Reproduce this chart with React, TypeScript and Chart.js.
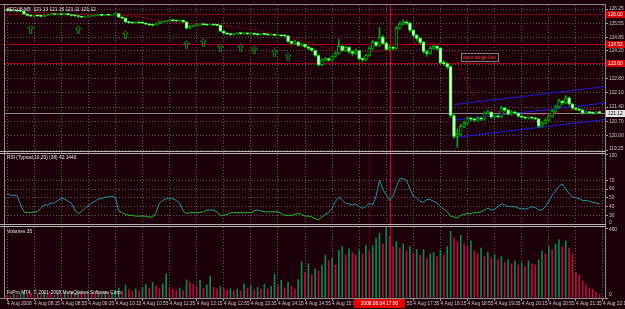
import React, { useEffect, useRef } from 'react';
import { Chart, registerables } from 'chart.js';

Chart.register(...registerables);

// ---------------- DATA ----------------
const symbolTitle = '#EGU8,M5  121.13 121.15 121.11 121.12';
const rsiTitle = 'RSI (Typical,10,20) (38) 42.1440';
const volTitle = 'Volumes 35';
const copyright = 'FxPro MT4, \u00a9 2001-2008 MetaQuotes Software Corp.';

const opens = [
  126.20,126.18,126.16,126.17,126.15,126.14,126.00,125.93,125.90,125.92,
  125.91,125.89,125.93,125.97,125.99,125.98,126.00,125.98,125.99,125.97,
  125.93,125.92,125.88,125.85,125.86,125.90,125.92,125.93,125.95,125.94,
  125.96,125.95,125.97,126.02,125.85,125.80,125.62,125.58,125.56,125.60,
  125.57,125.55,125.50,125.47,125.45,125.52,125.60,125.63,125.66,125.70,
  125.68,125.66,125.69,125.62,125.30,125.40,125.42,125.45,125.50,125.48,
  125.46,125.48,125.46,125.44,125.15,125.05,125.02,124.98,125.02,125.05,
  125.03,125.05,125.02,125.05,125.00,124.98,125.02,125.00,124.97,124.98,
  124.95,124.97,124.93,124.92,124.65,124.55,124.62,124.45,124.50,124.38,
  124.30,124.20,123.95,123.50,123.72,123.80,123.72,123.90,124.05,124.40,
  124.20,124.35,124.15,124.05,124.20,123.80,123.75,123.95,124.30,124.60,
  124.45,124.85,124.55,124.25,124.35,124.30,125.30,125.50,125.60,125.55,
  125.20,124.95,124.80,124.60,124.15,124.05,124.30,124.40,124.30,123.60,
  123.55,123.40,120.98,119.95,120.05,120.45,120.60,120.85,120.80,120.75,
  120.85,120.80,121.10,121.15,120.90,120.95,120.92,121.35,121.25,121.05,
  121.15,121.10,120.95,120.90,120.85,120.88,120.85,120.82,120.45,120.60,
  120.75,120.95,121.20,121.40,121.70,121.60,121.85,121.55,121.35,121.30,
  121.25,121.10,121.15,121.12,121.10,121.14,
];
const closes = [
  126.18,126.16,126.17,126.15,126.14,126.00,125.93,125.90,125.92,125.91,
  125.89,125.93,125.97,125.99,125.98,126.00,125.98,125.99,125.97,125.93,
  125.92,125.88,125.85,125.86,125.90,125.92,125.93,125.95,125.94,125.96,
  125.95,125.97,126.02,125.85,125.80,125.62,125.58,125.56,125.60,125.57,
  125.55,125.50,125.47,125.45,125.52,125.60,125.63,125.66,125.70,125.68,
  125.66,125.69,125.62,125.30,125.40,125.42,125.45,125.50,125.48,125.46,
  125.48,125.46,125.44,125.15,125.05,125.02,124.98,125.02,125.05,125.03,
  125.05,125.02,125.05,125.00,124.98,125.02,125.00,124.97,124.98,124.95,
  124.97,124.93,124.92,124.65,124.55,124.62,124.45,124.50,124.38,124.30,
  124.20,123.95,123.50,123.72,123.80,123.72,123.90,124.05,124.40,124.20,
  124.35,124.15,124.05,124.20,123.80,123.75,123.95,124.30,124.60,124.45,
  124.85,124.55,124.25,124.35,124.30,125.30,125.50,125.60,125.55,125.20,
  124.95,124.80,124.60,124.15,124.05,124.30,124.40,124.30,123.60,123.55,
  123.40,120.98,119.95,120.05,120.45,120.60,120.85,120.80,120.75,120.85,
  120.80,121.10,121.15,120.90,120.95,120.92,121.35,121.25,121.05,121.15,
  121.10,120.95,120.90,120.85,120.88,120.85,120.82,120.45,120.60,120.75,
  120.95,121.20,121.40,121.70,121.60,121.85,121.55,121.35,121.30,121.25,
  121.10,121.15,121.12,121.10,121.14,121.12,
];
const highs = [
  126.23,126.20,126.20,126.19,126.18,126.16,126.02,125.96,125.95,125.94,
  125.93,125.96,125.99,126.02,126.01,126.03,126.02,126.02,126.01,125.99,
  125.96,125.94,125.90,125.89,125.93,125.95,125.96,125.98,125.97,125.99,
  125.98,126.00,126.06,126.04,125.88,125.82,125.65,125.61,125.63,125.62,
  125.59,125.57,125.53,125.50,125.55,125.63,125.66,125.69,125.73,125.72,
  125.71,125.72,125.71,125.64,125.44,125.46,125.48,125.53,125.52,125.50,
  125.51,125.50,125.48,125.46,125.18,125.08,125.04,125.05,125.08,125.07,
  125.08,125.07,125.08,125.07,125.03,125.05,125.04,125.02,125.01,125.00,
  125.00,124.99,124.96,124.94,124.68,124.70,124.65,124.58,124.53,124.42,
  124.34,124.23,123.98,123.78,123.86,123.84,123.95,124.12,124.75,124.45,
  124.42,124.38,124.20,124.28,124.22,123.85,124.02,124.38,124.70,124.65,
  125.35,124.95,124.60,124.45,124.40,125.40,125.62,125.72,125.68,125.60,
  125.25,125.00,124.85,124.65,124.20,124.40,124.48,124.45,124.35,123.70,
  123.60,123.45,121.05,120.30,120.55,120.70,120.92,120.90,120.85,120.92,
  120.90,121.18,121.25,121.18,121.00,121.00,121.45,121.40,121.30,121.22,
  121.20,121.12,121.00,120.95,120.93,120.92,120.90,120.85,120.68,120.82,
  121.02,121.28,121.50,121.80,121.75,121.97,121.90,121.60,121.40,121.35,
  121.30,121.20,121.18,121.16,121.18,121.17,
];
const lows = [
  126.15,126.13,126.14,126.12,126.11,125.97,125.90,125.87,125.88,125.88,
  125.86,125.88,125.92,125.95,125.96,125.96,125.95,125.96,125.95,125.90,
  125.89,125.84,125.82,125.83,125.85,125.88,125.90,125.91,125.92,125.92,
  125.93,125.93,125.95,125.82,125.76,125.58,125.55,125.52,125.54,125.54,
  125.52,125.46,125.43,125.40,125.43,125.50,125.58,125.61,125.64,125.65,
  125.63,125.64,125.59,125.25,125.27,125.37,125.39,125.43,125.45,125.43,
  125.44,125.43,125.41,125.12,125.02,124.98,124.94,124.96,125.00,125.00,
  125.01,124.99,125.00,124.97,124.95,124.96,124.97,124.93,124.94,124.92,
  124.93,124.90,124.88,124.60,124.50,124.52,124.40,124.42,124.33,124.25,
  124.15,123.90,123.42,123.45,123.68,123.66,123.70,123.86,124.00,124.15,
  124.15,124.05,123.95,124.00,123.72,123.65,123.70,123.90,124.25,124.40,
  124.40,124.50,124.20,124.20,124.22,124.25,125.25,125.45,125.48,125.10,
  124.88,124.70,124.50,124.05,123.90,124.00,124.25,124.22,123.55,123.45,
  123.30,120.90,119.85,119.40,120.00,120.38,120.55,120.72,120.68,120.70,
  120.72,120.75,121.05,120.85,120.85,120.86,120.88,121.18,121.00,121.00,
  121.03,120.90,120.85,120.80,120.80,120.80,120.76,120.38,120.40,120.55,
  120.70,120.90,121.15,121.35,121.50,121.55,121.48,121.28,121.22,121.20,
  121.05,121.07,121.07,121.05,121.07,121.10,
];
const maValues = [
  126.15,126.15,126.15,126.15,126.15,126.15,126.12,126.10,126.08,126.07,
  126.06,126.05,126.05,126.04,126.04,126.03,126.03,126.02,126.01,126.00,
  125.99,125.99,125.98,125.98,125.97,125.97,125.97,125.97,125.97,125.97,
  125.97,125.97,125.97,125.96,125.95,125.93,125.91,125.89,125.87,125.85,
  125.82,125.79,125.76,125.73,125.70,125.68,125.66,125.64,125.62,125.60,
  125.58,125.57,125.56,125.54,125.52,125.51,125.50,125.50,125.49,125.49,
  125.48,125.48,125.46,125.44,125.42,125.40,125.38,125.36,125.34,125.32,
  125.30,125.28,125.26,125.24,125.20,125.16,125.12,125.08,125.05,125.02,
  124.99,124.96,124.93,124.90,124.85,124.80,124.75,124.70,124.65,124.60,
  124.55,124.50,124.45,124.40,124.35,124.30,124.26,124.23,124.21,124.20,
  124.19,124.18,124.17,124.16,124.15,124.14,124.13,124.13,124.14,124.15,
  124.17,124.18,124.18,124.19,124.20,124.25,124.30,124.36,124.42,124.48,
  124.53,124.56,124.58,124.58,124.57,124.57,124.56,124.55,124.53,124.48,
  124.40,124.28,124.05,123.70,123.30,122.90,122.50,122.20,121.95,121.75,
  121.58,121.45,121.35,121.28,121.22,121.17,121.13,121.10,121.08,121.07,
  121.06,121.05,121.05,121.05,121.04,121.04,121.03,121.03,121.03,121.04,
  121.06,121.09,121.12,121.16,121.20,121.24,121.26,121.27,121.28,121.28,
  121.28,121.28,121.28,121.28,121.28,121.28,
];
const rsiValues = [
  55,53,53,52,42,34,33,33,34,34,
  38,42,42,44,44,47,49,49,46,44,
  36,32,34,38,41,44,46,49,49,51,
  51,52,50,35,33,31,30,30,29,29,
  29,29,28,28,33,44,47,49,49,49,
  47,44,35,32,33,33,33,33,34,36,
  36,36,34,30,30,31,33,33,33,33,
  33,33,33,35,36,35,34,34,34,34,
  34,32,30,30,30,31,32,31,29,29,
  28,26,25,28,31,33,38,46,51,47,
  44,43,42,43,40,38,40,44,42,52,
  70,60,53,47,52,63,72,72,70,60,
  52,50,46,45,48,48,46,44,40,37,
  34,29,28,27,30,31,32,32,33,33,
  34,36,38,36,37,40,43,42,40,40,
  40,38,38,37,38,40,39,36,36,40,
  46,53,58,63,66,60,55,51,50,49,
  47,47,46,45,44,43,
];
const volumes = [
  20,15,25,18,30,45,35,28,22,30,
  25,40,35,28,20,32,26,38,30,45,
  35,50,40,30,42,35,28,38,30,45,
  35,40,55,70,48,90,60,45,65,50,
  75,95,70,110,85,65,100,170,75,60,
  55,70,50,128,110,95,80,123,70,90,
  154,75,60,80,70,55,64,50,62,48,
  100,70,85,55,75,60,95,65,80,170,
  90,123,70,110,85,60,130,253,180,240,
  160,205,190,230,300,260,280,230,335,360,
  300,345,320,300,335,310,370,330,365,420,
  455,380,490,430,360,395,350,380,330,360,
  313,340,300,337,277,310,320,290,335,300,
  360,467,420,395,440,380,360,400,330,310,
  350,290,320,280,300,270,290,250,270,240,
  260,230,250,220,260,240,230,270,330,310,
  360,340,380,410,360,400,350,310,180,160,
  120,90,70,60,40,25,
];

const timeTickBars = [0, 8, 16, 24, 32, 40, 48, 56, 64, 72, 80, 88, 96, 104, 112, 120, 128, 136, 144, 152, 160, 168, 176];
const timeTickLabels = [
  '4 Aug 2008', '4 Aug 08:15', '4 Aug 08:55', '4 Aug 09:35', '4 Aug 10:15', '4 Aug 10:55',
  '4 Aug 11:35', '4 Aug 12:15', '4 Aug 12:55', '4 Aug 13:35', '4 Aug 14:15', '4 Aug 14:55',
  '4 Aug 15:35', '4 Aug 16:15', '4 Aug 16:55', '4 Aug 17:35', '4 Aug 18:15', '4 Aug 18:55',
  '4 Aug 19:35', '4 Aug 20:15', '4 Aug 20:55', '4 Aug 21:35', '4 Aug 22:15',
];
const priceTicks = [126.25, 125.55, 124.85, 124.20, 123.50, 122.80, 122.10, 121.40, 120.70, 120.00, 119.25];
const rsiTicks = [30, 40, 50, 60, 70, 100];
const rsiBottomLabel = '0';
const volTicks = [0, 490];

const levelPrices = [126.00, 124.53, 123.60];
const levelLabels = ['126.00', '124.53', '123.60'];
const currentPrice = 121.12;
const currentLabel = '121.12';
const vLineBars = [107, 113];
const vLineTimeLabel = '2008.08.04 17:00';
const fractalBars = [7, 21, 35, 53, 58, 63, 69, 73, 79, 83];
const fractalPrices = [125.26, 125.22, 124.97, 124.48, 124.58, 124.33, 124.33, 124.23, 124.08, 123.88];
const channelBars = [132, 176.6];
const channelUpper = [121.52, 122.41];
const channelMiddle = [120.75, 121.60];
const channelLower = [119.89, 120.78];
const noteText = 'open range line';
const noteBar = 134;
const notePrice = 123.89;

// ---------------- STYLE ----------------
const BG = '#1c000a';
const GRID = '#5c5c5c';
const AXIS_TEXT = '#c8c8c8';
const FAMILY = '"Liberation Sans", Arial, sans-serif';
const FS = 4.8;

function makeFractalIcon(): HTMLCanvasElement {
  const c = document.createElement('canvas');
  c.width = 7;
  c.height = 9;
  const g = c.getContext('2d')!;
  g.strokeStyle = '#138a13';
  g.lineWidth = 1;
  g.beginPath();
  g.moveTo(3.5, 0.5);
  g.lineTo(6.5, 3.5);
  g.lineTo(4.5, 3.5);
  g.lineTo(4.5, 8.5);
  g.lineTo(2.5, 8.5);
  g.lineTo(2.5, 3.5);
  g.lineTo(0.5, 3.5);
  g.closePath();
  g.stroke();
  return c;
}

const mt4Plugin = {
  id: 'mt4',
  beforeDraw(chart: any) {
    const ctx = chart.ctx;
    ctx.save();
    ctx.fillStyle = BG;
    ctx.fillRect(0, 0, chart.width, chart.height);
    ctx.restore();
  },
  beforeDatasetsDraw(chart: any) {
    const { ctx, chartArea: a, scales } = chart;
    const yP = scales.yPrice;
    const x = scales.x;
    ctx.save();
    ctx.lineWidth = 1;
    levelPrices.forEach((p, i) => {
      const y = Math.round(yP.getPixelForValue(p)) + 0.5;
      ctx.strokeStyle = i === 0 ? '#760014' : '#a4001c';
      ctx.beginPath();
      ctx.moveTo(a.left, y);
      ctx.lineTo(a.right, y);
      ctx.stroke();
    });
    const yc = Math.round(yP.getPixelForValue(currentPrice)) + 0.5;
    ctx.strokeStyle = '#8c8c8c';
    ctx.beginPath();
    ctx.moveTo(a.left, yc);
    ctx.lineTo(a.right, yc);
    ctx.stroke();
    vLineBars.forEach((b, i) => {
      const xx = Math.round(x.getPixelForValue(b)) + 0.5;
      ctx.strokeStyle = i === 0 ? '#6a0018' : '#d0002c';
      ctx.setLineDash(i === 0 ? [2, 1] : []);
      ctx.beginPath();
      ctx.moveTo(xx, a.top);
      ctx.lineTo(xx, a.bottom);
      ctx.stroke();
    });
    ctx.restore();
  },
  afterDraw(chart: any) {
    const { ctx, chartArea: a, scales } = chart;
    const yP = scales.yPrice;
    const yR = scales.yRsi;
    const yV = scales.yVol;
    const x = scales.x;
    ctx.save();
    ctx.lineWidth = 1;
    ctx.strokeStyle = '#8a8a8a';
    ctx.beginPath();
    ctx.moveTo(0, a.top - 0.5);
    ctx.lineTo(a.right + 1, a.top - 0.5);
    ctx.moveTo(a.right + 0.5, a.top - 1);
    ctx.lineTo(a.right + 0.5, a.bottom + 1);
    ctx.moveTo(0, a.bottom + 0.5);
    ctx.lineTo(a.right + 1, a.bottom + 0.5);
    ctx.moveTo(a.left - 0.5, a.top);
    ctx.lineTo(a.left - 0.5, a.bottom);
    ctx.stroke();
    ctx.strokeStyle = '#b4b4b4';
    [yP.bottom, yR.bottom].forEach((b: number) => {
      const yy = Math.round(b);
      ctx.beginPath();
      ctx.moveTo(0, yy - 0.5);
      ctx.lineTo(a.right + 1, yy - 0.5);
      ctx.moveTo(0, yy + 1.5);
      ctx.lineTo(a.right + 1, yy + 1.5);
      ctx.stroke();
    });

    ctx.font = `${FS}px ${FAMILY}`;
    ctx.textBaseline = 'middle';
    ctx.textAlign = 'left';
    const drawLabels = (scale: any, fmt: (v: number) => string) => {
      ctx.fillStyle = AXIS_TEXT;
      scale.ticks.forEach((t: any) => {
        let y = scale.getPixelForValue(t.value);
        y = Math.min(Math.max(y, scale.top + 4), scale.bottom - 3);
        ctx.fillText(fmt(t.value), a.right + 4, y);
      });
    };
    drawLabels(yP, (v) => v.toFixed(2));
    drawLabels(yR, (v) => String(v));
    drawLabels(yV, (v) => String(v));
    ctx.fillStyle = AXIS_TEXT;
    ctx.fillText(rsiBottomLabel, a.right + 4, yR.bottom - 3);

    levelPrices.forEach((p, i) => {
      const y = Math.round(yP.getPixelForValue(p));
      ctx.fillStyle = '#d40000';
      ctx.fillRect(a.right + 1, y - 3, 19, 7);
      ctx.fillStyle = '#ffffff';
      ctx.fillText(levelLabels[i], a.right + 3, y + 0.5);
    });
    const yc = Math.round(yP.getPixelForValue(currentPrice));
    ctx.fillStyle = '#e4e4e4';
    ctx.fillRect(a.right + 1, yc - 3, 19, 7);
    ctx.fillStyle = '#000000';
    ctx.fillText(currentLabel, a.right + 3, yc + 0.5);

    const nx = x.getPixelForValue(noteBar);
    const ny = yP.getPixelForValue(notePrice);
    const tw = ctx.measureText(noteText).width;
    ctx.fillStyle = BG;
    ctx.fillRect(nx, ny - 4, tw + 4, 8);
    ctx.strokeStyle = '#7c7c7c';
    ctx.strokeRect(Math.round(nx) + 0.5, Math.round(ny - 4) + 0.5, Math.round(tw + 4), 8);
    ctx.fillStyle = '#ff4040';
    ctx.fillText(noteText, nx + 2, ny + 0.5);

    ctx.fillStyle = '#e6e6e6';
    ctx.fillText(symbolTitle, a.left + 2, a.top + 5);
    ctx.fillText(rsiTitle, a.left + 2, yR.top + 6);
    ctx.fillText(volTitle, a.left + 2, yV.top + 6);
    ctx.fillText(copyright, a.left + 2, yV.bottom - 5);

    const vx = (x.getPixelForValue(vLineBars[0]) + x.getPixelForValue(vLineBars[1])) / 2;
    const vw = ctx.measureText(vLineTimeLabel).width + 14;
    ctx.fillStyle = '#e00000';
    ctx.fillRect(vx - vw / 2, a.bottom + 1, vw, 9);
    ctx.fillStyle = '#ffffff';
    ctx.textAlign = 'center';
    ctx.fillText(vLineTimeLabel, vx, a.bottom + 5.5);
    ctx.restore();
  },
};

export default function App() {
  const ref = useRef<HTMLCanvasElement>(null);

  useEffect(() => {
    const canvas = ref.current;
    if (!canvas) return;
    const icon = makeFractalIcon();

    const isBear = (i: number) => closes[i] < opens[i];
    const rsiHigh = '#1f9a9a';
    const rsiLow = '#22c022';

    const datasets: any[] = [
      {
        type: 'bar',
        label: 'wicks',
        data: closes.map((_, i) => ({ x: i, y: [lows[i], highs[i]] })),
        yAxisID: 'yPrice',
        backgroundColor: '#00aa00',
        borderWidth: 0,
        barThickness: 1,
        grouped: false,
        order: 5,
      },
      {
        type: 'bar',
        label: 'bodies',
        data: closes.map((c, i) => ({ x: i, y: [opens[i], c] })),
        yAxisID: 'yPrice',
        backgroundColor: closes.map((_, i) => (isBear(i) ? '#e4ffe4' : '#000000')),
        borderColor: closes.map((_, i) => (isBear(i) ? '#3cff3c' : '#00aa00')),
        borderWidth: 1,
        borderSkipped: false,
        barThickness: 3,
        minBarLength: 1,
        grouped: false,
        order: 4,
      },
      {
        type: 'line',
        label: 'MA',
        data: maValues.map((v, i) => ({ x: i, y: v })),
        yAxisID: 'yPrice',
        borderColor: '#b0001c',
        borderWidth: 1,
        borderDash: [2, 2],
        pointRadius: 0,
        tension: 0,
        order: 6,
      },
      ...[channelUpper, channelMiddle, channelLower].map((vals) => ({
        type: 'line',
        label: 'channel',
        data: channelBars.map((b, k) => ({ x: b, y: vals[k] })),
        yAxisID: 'yPrice',
        borderColor: '#1c1ce0',
        borderWidth: 1,
        pointRadius: 0,
        order: 7,
      })),
      {
        type: 'line',
        label: 'fractals',
        data: fractalBars.map((b, k) => ({ x: b, y: fractalPrices[k] })),
        yAxisID: 'yPrice',
        showLine: false,
        pointStyle: icon,
        pointRadius: 4,
        order: 3,
      },
      {
        type: 'line',
        label: 'RSI',
        data: rsiValues.map((v, i) => ({ x: i, y: v })),
        yAxisID: 'yRsi',
        borderColor: rsiHigh,
        borderWidth: 1,
        pointRadius: 0,
        tension: 0,
        segment: {
          borderColor: (c: any) => ((c.p0.parsed.y + c.p1.parsed.y) / 2 < 35.5 ? rsiLow : rsiHigh),
        },
        order: 2,
      },
      {
        type: 'bar',
        label: 'Volumes',
        data: volumes.map((v, i) => ({ x: i, y: v })),
        yAxisID: 'yVol',
        backgroundColor: volumes.map((v, i) => (i > 0 && v > volumes[i - 1] ? '#138450' : '#b0143e')),
        borderWidth: 0,
        barThickness: 1,
        grouped: false,
        order: 1,
      },
    ];

    const yCommon = (ticksArr: number[], weight: number, min: number, max: number, onArea = true) => ({
      type: 'linear',
      position: 'right',
      stack: 'panes',
      stackWeight: weight,
      min,
      max,
      offset: false,
      grid: {
        color: (c: any) => (c.tick && c.tick.value === 100 ? 'rgba(0,0,0,0)' : GRID),
        lineWidth: 1,
        drawOnChartArea: onArea,
        drawTicks: true,
        tickLength: 3,
        tickColor: '#a0a0a0',
        tickBorderDash: [],
      },
      border: { display: false, dash: [1, 2] },
      ticks: { display: false },
      afterBuildTicks: (s: any) => {
        s.ticks = ticksArr.map((v) => ({ value: v }));
      },
      afterFit: (s: any) => {
        s.width = 20;
      },
    });

    const chart = new Chart(canvas, {
      type: 'bar',
      data: { datasets },
      options: {
        animation: false,
        responsive: false,
        devicePixelRatio: 1,
        events: [],
        layout: { padding: { top: 4, left: 1, right: 0, bottom: 0 } },
        plugins: { legend: { display: false }, tooltip: { enabled: false } },
        scales: {
          x: {
            type: 'linear',
            position: 'bottom',
            min: -0.6,
            max: 176.6,
            offset: false,
            grid: {
              color: GRID,
              lineWidth: 1,
              offset: false,
              drawTicks: true,
              tickLength: 3,
              tickColor: '#a0a0a0',
              tickBorderDash: [],
            },
            border: { display: false, dash: [1, 2] },
            ticks: {
              autoSkip: false,
              maxRotation: 0,
              minRotation: 0,
              align: 'start',
              padding: 0,
              color: AXIS_TEXT,
              font: { family: FAMILY, size: FS },
              callback: (v: any) => {
                const k = timeTickBars.indexOf(Number(v));
                return k >= 0 ? timeTickLabels[k] : '';
              },
            },
            afterBuildTicks: (s: any) => {
              s.ticks = timeTickBars.map((v) => ({ value: v }));
            },
            afterFit: (s: any) => {
              s.height = 11;
              s.paddingLeft = 0;
              s.paddingRight = 0;
            },
          },
          yPrice: yCommon(priceTicks, 147, 119.2, 126.45),
          yRsi: yCommon(rsiTicks, 74, 18.6, 103.1),
          yVol: yCommon(volTicks, 73, 0, 510, false),
        } as any,
      },
      plugins: [mt4Plugin],
    } as any);

    return () => chart.destroy();
  }, []);

  return (
    <div style={{ position: 'fixed', left: 0, top: 0, width: 625, height: 309, background: BG }}>
      <canvas ref={ref} width={625} height={309} style={{ display: 'block', width: 625, height: 309 }} />
    </div>
  );
}
